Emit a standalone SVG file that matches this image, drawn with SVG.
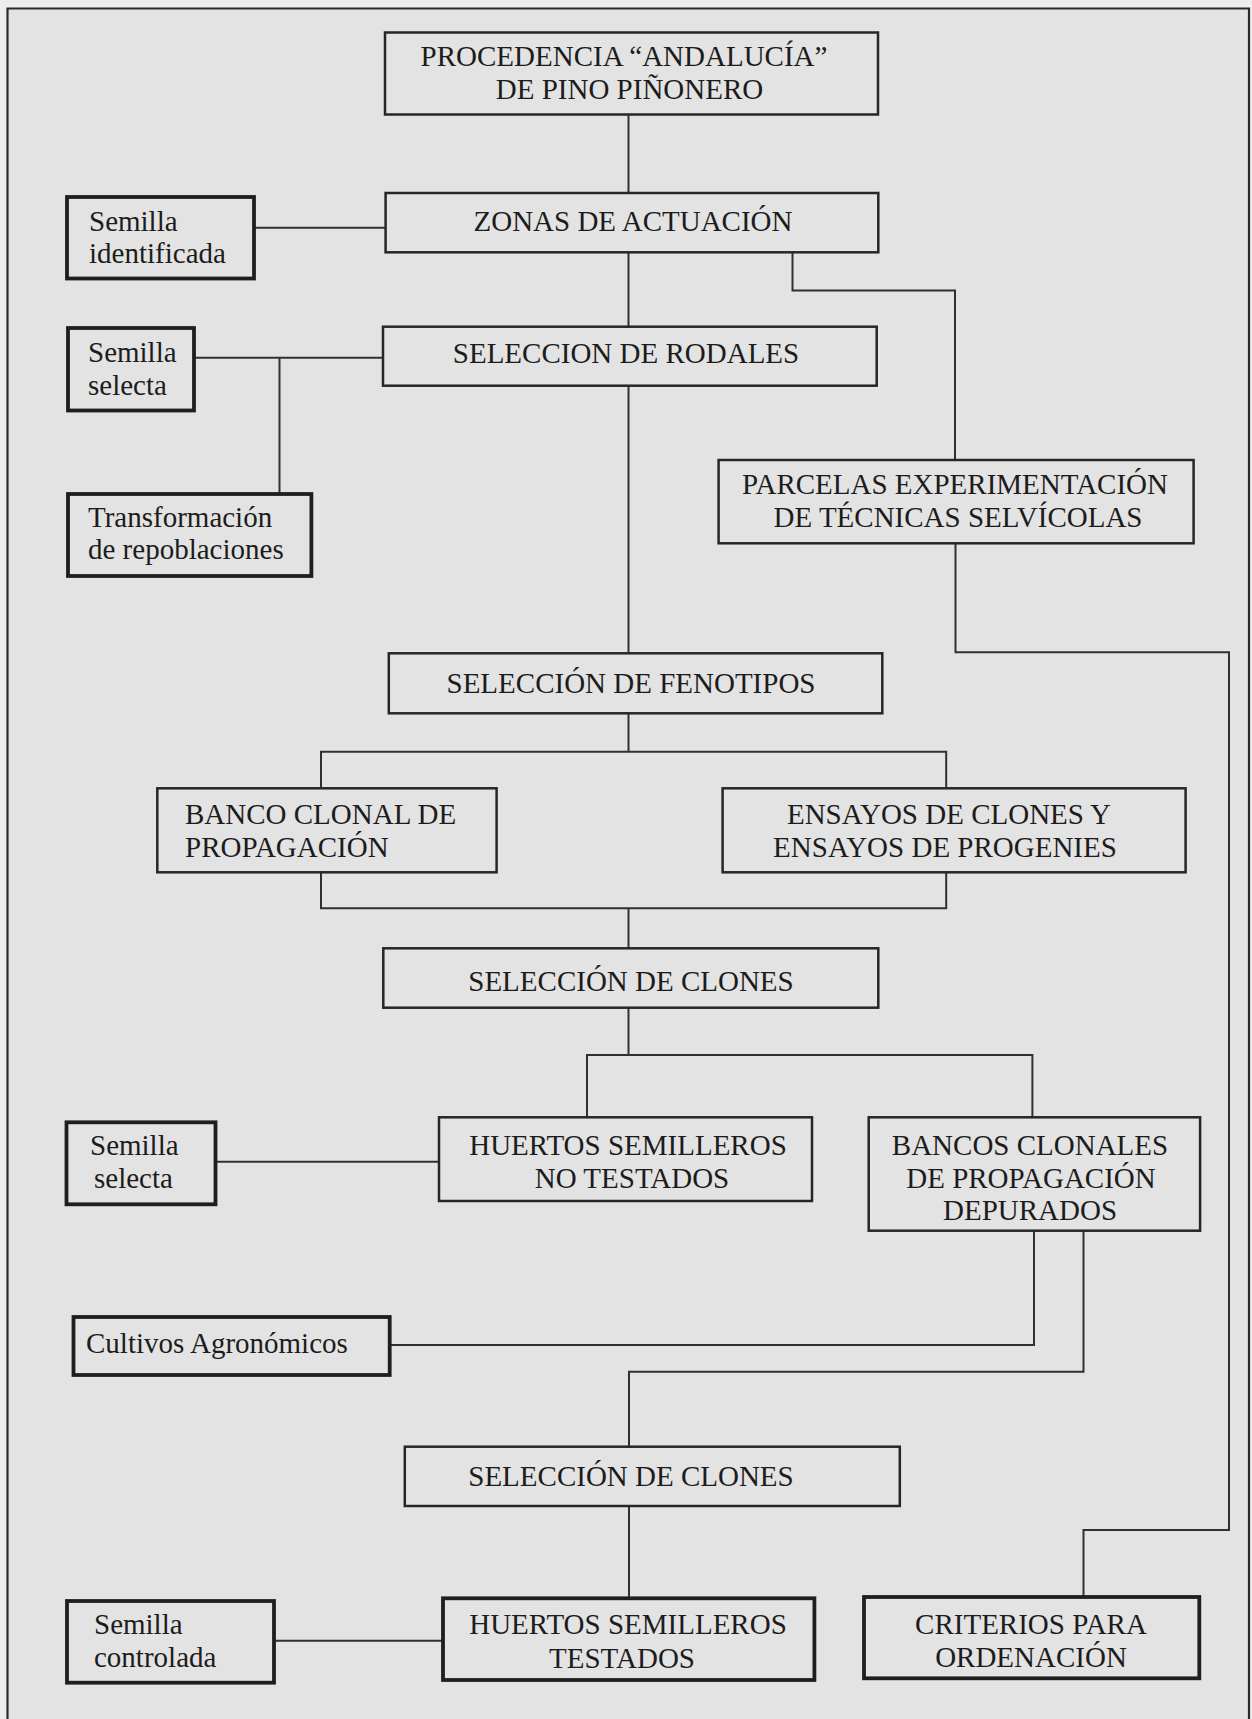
<svg xmlns="http://www.w3.org/2000/svg" width="1252" height="1719" viewBox="0 0 1252 1719">
<style>
.bg{fill:#e3e3e3}
.box{fill:none;stroke:#262626;stroke-width:2.5}
.tbox{fill:none;stroke:#1e1e1e;stroke-width:3.8}
.t{font-family:"Liberation Serif","Times New Roman",serif;font-size:29px;fill:#1c1c1c}
.c{text-anchor:middle}
.ln{fill:none;stroke:#303030;stroke-width:2}
</style>
<rect x="0" y="0" width="1252" height="1719" fill="#ededed"/>
<rect x="8" y="8.5" width="1241" height="1720" class="bg"/>
<path d="M7.5 1719 V8.5 H1249 V1719" fill="none" stroke="#2a2a2a" stroke-width="2.2"/>

<g id="connectors">
<path class="ln" d="M628.5 114 V193"/>
<path class="ln" d="M628.5 252 V327"/>
<path class="ln" d="M628.5 386 V653"/>
<path class="ln" d="M254 227.7 H385.6"/>
<path class="ln" d="M194 357.7 H383"/>
<path class="ln" d="M279.5 357.7 V494"/>
<path class="ln" d="M792.5 252 V290.5 H955 V460"/>
<path class="ln" d="M955.5 543.3 V652.3 H1229 V1530 H1083.5 V1597"/>
<path class="ln" d="M628.5 713.3 V751.7"/>
<path class="ln" d="M321 788.3 V751.7 H946.2 V788.3"/>
<path class="ln" d="M321 872.3 V908.3 H946.2 V872.3"/>
<path class="ln" d="M628.5 908.3 V948.3"/>
<path class="ln" d="M628.5 1007.7 V1055"/>
<path class="ln" d="M587 1117.3 V1055 H1032.4 V1117.3"/>
<path class="ln" d="M215.6 1161.7 H439"/>
<path class="ln" d="M1034 1230.7 V1345 H389.7"/>
<path class="ln" d="M1083.5 1230.7 V1371.7 H629 V1446.7"/>
<path class="ln" d="M629 1506 V1598"/>
<path class="ln" d="M274 1640.7 H443"/>
</g>

<g id="procedencia">
<rect class="box" x="385" y="32.5" width="493" height="82"/>
<text class="t c" x="624" y="65.7">PROCEDENCIA “ANDALUCÍA”</text>
<text class="t c" x="629.5" y="99">DE PINO PIÑONERO</text>
</g>
<g id="zonas">
<rect class="box" x="385.6" y="193" width="492.7" height="59.3"/>
<text class="t c" x="633" y="231">ZONAS DE ACTUACIÓN</text>
</g>
<g id="semilla-identificada">
<rect class="tbox" x="67" y="197" width="187" height="81.5"/>
<text class="t" x="89" y="231">Semilla</text>
<text class="t" x="89" y="263.3">identificada</text>
</g>
<g id="rodales">
<rect class="box" x="383" y="326.7" width="493.7" height="59"/>
<text class="t c" x="626" y="362.7">SELECCION DE RODALES</text>
</g>
<g id="semilla-selecta-1">
<rect class="tbox" x="68" y="328" width="126" height="82.5"/>
<text class="t" x="88" y="361.7">Semilla</text>
<text class="t" x="88" y="395">selecta</text>
</g>
<g id="transformacion">
<rect class="tbox" x="68" y="494" width="243.4" height="82"/>
<text class="t" x="88" y="527.3">Transformación</text>
<text class="t" x="88" y="559">de repoblaciones</text>
</g>
<g id="parcelas">
<rect class="box" x="718.6" y="460" width="475" height="83.3"/>
<text class="t c" x="955" y="494">PARCELAS EXPERIMENTACIÓN</text>
<text class="t c" x="958" y="527.3">DE TÉCNICAS SELVÍCOLAS</text>
</g>
<g id="fenotipos">
<rect class="box" x="388.8" y="653.3" width="493.5" height="60"/>
<text class="t c" x="631" y="692.7">SELECCIÓN DE FENOTIPOS</text>
</g>
<g id="banco-clonal">
<rect class="box" x="157.3" y="788.3" width="339.3" height="84"/>
<text class="t" x="185" y="824">BANCO CLONAL DE</text>
<text class="t" x="185" y="857.3">PROPAGACIÓN</text>
</g>
<g id="ensayos">
<rect class="box" x="722.6" y="788.3" width="463" height="84"/>
<text class="t c" x="949" y="824">ENSAYOS DE CLONES Y</text>
<text class="t c" x="945" y="857">ENSAYOS DE PROGENIES</text>
</g>
<g id="clones-1">
<rect class="box" x="383.3" y="948.3" width="495" height="59.4"/>
<text class="t c" x="631" y="990.7">SELECCIÓN DE CLONES</text>
</g>
<g id="huertos-no-testados">
<rect class="box" x="439" y="1117.3" width="373" height="83.7"/>
<text class="t c" x="628" y="1155">HUERTOS SEMILLEROS</text>
<text class="t c" x="632" y="1188.3">NO TESTADOS</text>
</g>
<g id="semilla-selecta-2">
<rect class="tbox" x="66.5" y="1122.3" width="149" height="82"/>
<text class="t" x="90" y="1155">Semilla</text>
<text class="t" x="94" y="1187.7">selecta</text>
</g>
<g id="bancos-clonales">
<rect class="box" x="868.7" y="1117.3" width="331.4" height="113.4"/>
<text class="t c" x="1030" y="1155">BANCOS CLONALES</text>
<text class="t c" x="1031" y="1187.7">DE PROPAGACIÓN</text>
<text class="t c" x="1030" y="1220">DEPURADOS</text>
</g>
<g id="cultivos">
<rect class="tbox" x="73.5" y="1317" width="316.2" height="58"/>
<text class="t" x="86" y="1353.3">Cultivos Agronómicos</text>
</g>
<g id="clones-2">
<rect class="box" x="404.8" y="1446.7" width="495" height="59.3"/>
<text class="t c" x="631" y="1486">SELECCIÓN DE CLONES</text>
</g>
<g id="semilla-controlada">
<rect class="tbox" x="67" y="1601" width="207" height="81.7"/>
<text class="t" x="94" y="1634.3">Semilla</text>
<text class="t" x="94" y="1667.3">controlada</text>
</g>
<g id="huertos-testados">
<rect class="tbox" x="443" y="1598.3" width="371.4" height="81.7"/>
<text class="t c" x="628" y="1634.3">HUERTOS SEMILLEROS</text>
<text class="t c" x="622" y="1667.7">TESTADOS</text>
</g>
<g id="criterios">
<rect class="tbox" x="864" y="1597" width="335.3" height="81.3"/>
<text class="t c" x="1031" y="1634.3">CRITERIOS PARA</text>
<text class="t c" x="1031" y="1667.3">ORDENACIÓN</text>
</g>
</svg>
